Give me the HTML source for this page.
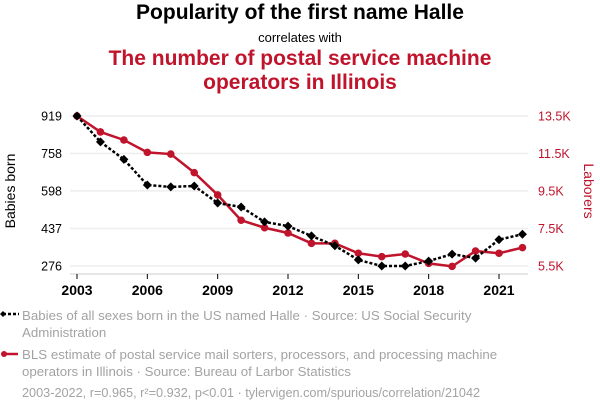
<!DOCTYPE html>
<html><head><meta charset="utf-8"><style>
body{margin:0;width:600px;height:414px;background:#fff;font-family:"Liberation Sans",sans-serif;overflow:hidden;position:relative}
.t{position:absolute;left:0;width:600px;text-align:center}
.leg{position:absolute;left:22px;width:482px;font-size:13.3px;color:#a3a3a3;line-height:17px}
</style></head><body>
<div class="t" style="top:1px;font-size:21px;font-weight:bold;color:#000">Popularity of the first name Halle</div>
<div class="t" style="top:30px;font-size:13px;color:#000">correlates with</div>
<div class="t" style="top:47px;font-size:21px;font-weight:bold;color:#c0142c;line-height:24px">The number of postal service machine<br>operators in Illinois</div>
<svg id="chart" width="600" height="300" style="position:absolute;left:0;top:0"></svg>
<div class="leg" style="top:307px">Babies of all sexes born in the US named Halle · Source: US Social Security Administration</div>
<svg style="position:absolute;left:0;top:309px" width="22" height="10"><line x1="3" y1="5" x2="19" y2="5" stroke="#000" stroke-width="2.5" stroke-dasharray="3,2"/><path d="M0,5 L3,2 L6,5 L3,8Z" fill="#000"/></svg>
<div class="leg" style="top:346px">BLS estimate of postal service mail sorters, processors, and processing machine operators in Illinois · Source: Bureau of Larbor Statistics</div>
<svg style="position:absolute;left:0;top:349px" width="22" height="10"><line x1="3" y1="5" x2="18" y2="5" stroke="#c0142c" stroke-width="2.5"/><circle cx="4" cy="5" r="3" fill="#c0142c"/></svg>
<div class="leg" style="top:385px;width:560px;font-size:12.7px">2003-2022, r=0.965, r²=0.932, p&lt;0.01 · tylervigen.com/spurious/correlation/21042</div>
<script>
const years=[2003,2004,2005,2006,2007,2008,2009,2010,2011,2012,2013,2014,2015,2016,2017,2018,2019,2020,2021,2022];
const babies=[919,808,733,623,615,619,546,529,465,447,405,363,302,276,276,297,327,310,389,412];
const laborers=[13.5,12.65,12.22,11.56,11.47,10.48,9.29,7.94,7.54,7.26,6.71,6.71,6.18,6.0,6.14,5.64,5.48,6.3,6.18,6.48];
const leftTicks=[919,758,598,437,276];
const rightTicks=[13.5,11.5,9.5,7.5,5.5];
const xTicks=[2003,2006,2009,2012,2015,2018,2021];
const NS="http://www.w3.org/2000/svg";
const svg=document.getElementById('chart');
const x=v=>77+(v-2003)*(422/18);
const yL=v=>116+(919-v)/643*150;
const yR=v=>116+(13.5-v)/8*150;
function mk(tag,attrs,parent){const e=document.createElementNS(NS,tag);for(const k in attrs)e.setAttribute(k,attrs[k]);(parent||svg).appendChild(e);return e;}
leftTicks.forEach((t,i)=>{
 const g=mk('line',{x1:70,x2:528,y1:yL(t),y2:yL(t),stroke:'#eee','stroke-width':1.5});
 
 
 const l=mk('text',{x:62,y:yL(t)+4.5,'text-anchor':'end','font-size':12.5,fill:'#000'});l.textContent=t;
 
 
});
rightTicks.forEach(t=>{
 const l=mk('text',{x:538,y:yR(t)+4.5,'font-size':12.5,fill:'#c0142c'});l.textContent=t+'K';
 
 
});
const ax=mk('line',{x1:70,x2:528,y1:274,y2:274,stroke:'#ccc','stroke-width':1});


xTicks.forEach(t=>{
 mk('line',{x1:x(t),x2:x(t),y1:274,y2:279,stroke:'#000'});
 const l=mk('text',{x:x(t),y:295,'text-anchor':'middle','font-size':14,'font-weight':'bold',fill:'#000'});l.textContent=t;
 
 
});
const lt=mk('text',{transform:'translate(15,191) rotate(-90)','text-anchor':'middle','font-size':14,fill:'#000'});lt.textContent='Babies born';


const rt=mk('text',{transform:'translate(584,191) rotate(90)','text-anchor':'middle','font-size':14,fill:'#c0142c'});rt.textContent='Laborers';


const rl=mk('polyline',{points:years.map((y,i)=>x(y)+','+yR(laborers[i])).join(' '),fill:'none',stroke:'#c0142c','stroke-width':2.5});


years.forEach((y,i)=>{const c=mk('circle',{cx:x(y),cy:yR(laborers[i]),r:3.8,fill:'#c0142c'});
 
 });
const bl=mk('polyline',{points:years.map((y,i)=>x(y)+','+yL(babies[i])).join(' '),fill:'none',stroke:'#000','stroke-width':2.5,'stroke-dasharray':'3,2'});


years.forEach((y,i)=>{const cx=x(y),cy=yL(babies[i]);
 const p=mk('path',{d:`M${cx-4.5},${cy} L${cx},${cy-4.5} L${cx+4.5},${cy} L${cx},${cy+4.5}Z`,fill:'#000'});
 
 });
</script>
</body></html>
